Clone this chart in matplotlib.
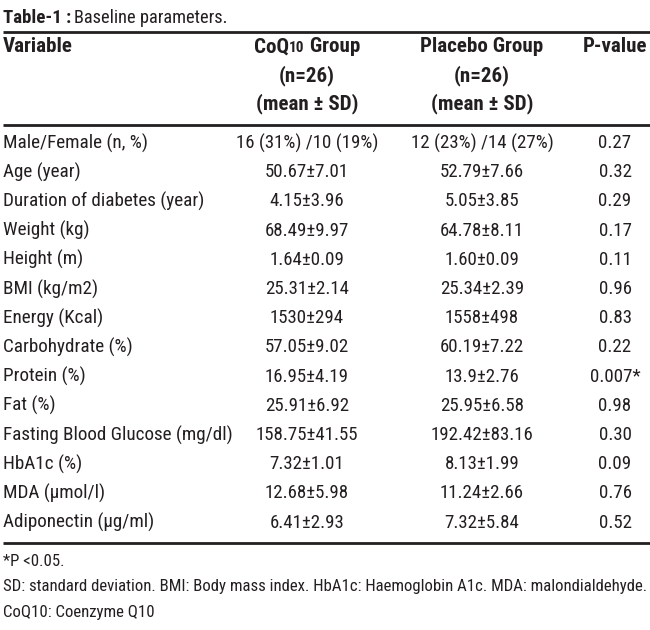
import matplotlib
matplotlib.use("Agg")
import matplotlib.pyplot as plt
from matplotlib import font_manager

names = {f.name for f in font_manager.fontManager.ttflist}
cond = [n for n in ["Liberation Sans Narrow", "Roboto Condensed", "DejaVu Sans Condensed"] if n in names]
FAM = cond[:1] + ["DejaVu Sans"]

title_bold = "Table-1 :"
title_rest = "Baseline parameters."
header_var = "Variable"
header_groups = [("CoQ", "10", " Group"), ("Placebo Group", "", "")]
header_sub = ["(n=26)", "(mean ± SD)"]
header_p = "P-value"
variables = ["Male/Female (n, %)", "Age (year)", "Duration of diabetes (year)", "Weight (kg)",
             "Height (m)", "BMI (kg/m2)", "Energy (Kcal)", "Carbohydrate (%)", "Protein (%)",
             "Fat (%)", "Fasting Blood Glucose (mg/dl)", "HbA1c (%)", "MDA (µmol/l)",
             "Adiponectin (µg/ml)"]
coq10 = ["16 (31%) /10 (19%)", "50.67±7.01", "4.15±3.96", "68.49±9.97", "1.64±0.09",
         "25.31±2.14", "1530±294", "57.05±9.02", "16.95±4.19", "25.91±6.92",
         "158.75±41.55", "7.32±1.01", "12.68±5.98", "6.41±2.93"]
placebo = ["12 (23%) /14 (27%)", "52.79±7.66", "5.05±3.85", "64.78±8.11", "1.60±0.09",
           "25.34±2.39", "1558±498", "60.19±7.22", "13.9±2.76", "25.95±6.58",
           "192.42±83.16", "8.13±1.99", "11.24±2.66", "7.32±5.84"]
pvalues = ["0.27", "0.32", "0.29", "0.17", "0.11", "0.96", "0.83", "0.22", "0.007*",
           "0.98", "0.30", "0.09", "0.76", "0.52"]
footnotes = ["*P <0.05.",
             "SD: standard deviation. BMI: Body mass index. HbA1c: Haemoglobin A1c. MDA: malondialdehyde.",
             "CoQ10: Coenzyme Q10"]

W, H = 650, 630
fig = plt.figure(figsize=(W / 100, H / 100), dpi=100)
fig.patch.set_facecolor("white")
ax = fig.add_axes([0, 0, 1, 1])
ax.set_xlim(0, W)
ax.set_ylim(H, 0)
ax.axis("off")
renderer = fig.canvas.get_renderer()

TC = "#231f20"

def txt(x, y, s, ha="left", bold=False, size=13.5, va="center", **kw):
    return ax.text(x, y, s, ha=ha, va=va, fontsize=size, color=TC,
                   family=FAM, fontweight="bold" if bold else "normal", **kw)

def width(s, size, bold=False):
    t = txt(0, 0, s, size=size, bold=bold)
    bb = t.get_window_extent(renderer)
    t.remove()
    return bb.width

def fit(s, target, bold=False):
    return 10 * target / width(s, 10, bold)

FS_LAB = fit("Duration of diabetes (year)", 201)
FS_NUM = min(fit("158.75±41.55", 102), FS_LAB * 1.06)
FS_HEAD = min(fit("Placebo Group", 128, bold=True), fit("Variable", 70, bold=True))
FS_FOOT = fit(footnotes[1], 644)
FS_TB = fit(title_bold, 69, bold=True)
FS_TR = min(fit(title_rest, 152), FS_LAB)

# title (baseline aligned)
t = txt(3, 23, title_bold, bold=True, size=FS_TB, va="baseline")
bb = t.get_window_extent(renderer).transformed(ax.transData.inverted())
txt(bb.x1 + 3, 23, title_rest, size=FS_TR, va="baseline")

# rules
for yy in (32, 125, 543):
    ax.plot([3, W], [yy, yy], color=TC, lw=2.0, solid_capstyle="butt")

# header
col_x = [3, 307, 482, 615]
hy = [47, 76, 104]
txt(col_x[0], hy[0], header_var, bold=True, size=FS_HEAD)
txt(col_x[3], hy[0], header_p, bold=True, size=FS_HEAD, ha="center")
for ci, parts in zip((1, 2), header_groups):
    a, small, c = parts
    if small:
        wa = width(a, FS_HEAD, True)
        ws = width(small, FS_HEAD * 0.72, True)
        wc = width(c, FS_HEAD, True)
        x0 = col_x[ci] - (wa + ws + wc) / 2
        yb = hy[0] + 5.5
        txt(x0, yb, a, bold=True, size=FS_HEAD, va="baseline")
        txt(x0 + wa, yb, small, bold=True, size=FS_HEAD * 0.72, va="baseline")
        txt(x0 + wa + ws, yb, c, bold=True, size=FS_HEAD, va="baseline")
    else:
        txt(col_x[ci], hy[0], a, ha="center", bold=True, size=FS_HEAD)
    for li, line in enumerate(header_sub):
        txt(col_x[ci], hy[li + 1], line, ha="center", bold=True, size=FS_HEAD)

# rows
y0, dy = 143, 29.2
for i, (v, a, b, p) in enumerate(zip(variables, coq10, placebo, pvalues)):
    y = y0 + i * dy
    txt(col_x[0], y, v, size=FS_LAB)
    txt(col_x[1], y, a, ha="center", size=FS_NUM)
    txt(col_x[2], y, b, ha="center", size=FS_NUM)
    if p.endswith("*"):
        txt(641, y, p, ha="right", size=FS_NUM)
    else:
        txt(col_x[3], y, p, ha="center", size=FS_NUM)

# footnotes
for fy, f in zip([562, 587, 612], footnotes):
    txt(3, fy, f, size=FS_FOOT)

fig.savefig("out.png", dpi=100, facecolor="white")
